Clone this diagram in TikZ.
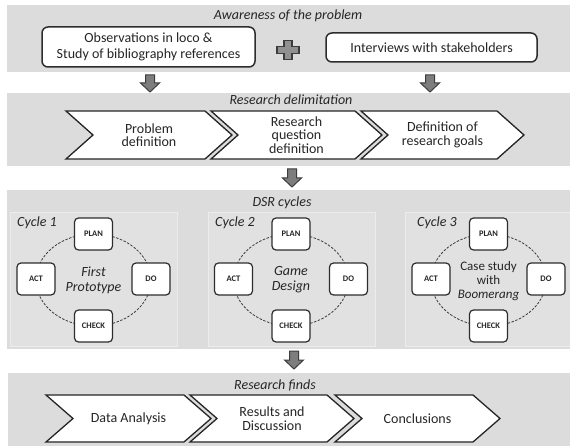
\documentclass[tikz,border=0pt]{standalone}
\usepackage{fontspec}
\setmainfont{Carlito}
\definecolor{bandfill}{RGB}{220,220,220}
\definecolor{panelfill}{RGB}{225,225,225}
\definecolor{paneledge}{RGB}{236,236,236}
\definecolor{boxline}{RGB}{45,45,45}
\definecolor{loopline}{RGB}{60,60,60}
\definecolor{arrowfill}{RGB}{125,125,125}
\definecolor{arrowline}{RGB}{60,60,60}
\tikzset{
  band/.style={fill=bandfill, draw=none},
  panel/.style={fill=panelfill, draw=paneledge, line width=0.7pt},
  heading/.style={font=\fontsize{14}{16}\selectfont\itshape, inner sep=0pt, text=black!85},
  srcbox/.style={draw=boxline, line width=1.5pt, fill=white, rounded corners=6pt,
    align=center, inner sep=0pt, font=\fontsize{14}{15.5}\selectfont, text=black!85},
  chevbox/.style={draw=black!85, line width=1.3pt, fill=white, line join=miter},
  chevtext/.style={align=center, inner sep=0pt, font=\fontsize{14}{13.5}\selectfont, text=black!85},
  pdca/.style={draw=boxline, line width=1.2pt, fill=white, rounded corners=4pt,
    minimum width=38pt, minimum height=32pt, inner sep=0pt,
    font=\fontsize{8.5}{9}\selectfont\bfseries, text=black!85},
  cyclename/.style={anchor=west, inner sep=0pt, font=\fontsize{14}{16}\selectfont\itshape, text=black!85},
  centretext/.style={align=center, inner sep=0pt, font=\fontsize{14}{15}\selectfont\itshape, text=black!85},
  loop/.style={draw=loopline, line width=0.8pt, dash pattern=on 2.5pt off 1.5pt},
  blockarrow/.style={fill=arrowfill, draw=arrowline, line width=1pt, line join=miter},
  plussign/.style={fill=arrowfill!85, draw=arrowline, line width=1.4pt, line join=miter},
}
% chevron: name, left x, tip x, top y, bottom y, label
\newcommand\chevronstep[6]{%
  \draw[chevbox] (#2,#4) -- ({#3-27},#4) -- (#3,{(#4+#5)/2}) -- ({#3-27},#5)
    -- (#2,#5) -- ({#2+27},{(#4+#5)/2}) -- cycle;
  \node[chevtext] (#1) at ({(#2+#3)/2},{(#4+#5)/2}) {#6};
}
% downward block arrow: x, top y, tip y
\newcommand\blockdown[3]{%
  \draw[blockarrow] ({#1-4.5},#2) -- ({#1+4.5},#2) -- ({#1+4.5},{#3-9}) -- ({#1+9.5},{#3-9})
    -- (#1,#3) -- ({#1-9.5},{#3-9}) -- ({#1-4.5},{#3-9}) -- cycle;
}
% one PDCA loop: prefix, centre x, centre y
\newcommand\pdcaloop[3]{%
  \draw[loop] (#2,#3) ellipse [x radius=57.5pt, y radius=46pt];
  \node[pdca] (#1plan)  at (#2,{#3-46}) {PLAN};
  \node[pdca] (#1act)   at ({#2-57.5},{#3-1}) {ACT};
  \node[pdca] (#1do)    at ({#2+57.5},{#3-1}) {DO};
  \node[pdca] (#1check) at (#2,{#3+46}) {CHECK};
}
\begin{document}
\begin{tikzpicture}[x=1pt, y=-1pt]
\useasboundingbox (0,0) rectangle (570,446);
\fill[white] (0,0) rectangle (570,446);

% ---- awareness of the problem
\fill[band] (7,5) rectangle (570,72);
\node[heading] (awaretitle) at (288,16) {Awareness of the problem};
\node[srcbox, minimum width=213pt, minimum height=40pt] (obs) at (148.5,47)
  {Observations in loco \&\\Study of bibliography references};
\node[srcbox, minimum width=211pt, minimum height=29pt] (interv) at (431.5,47.5)
  {Interviews with stakeholders};
% plus sign between the two sources
\draw[plussign] (277,46.5) -- (284,46.5) -- (284,40.5) -- (292,40.5) -- (292,46.5) -- (299,46.5)
  -- (299,53.5) -- (292,53.5) -- (292,59.5) -- (284,59.5) -- (284,53.5) -- (277,53.5) -- cycle;
\blockdown{150}{75}{92}
\blockdown{430}{75}{92}

% ---- research delimitation
\fill[band] (7,93) rectangle (570,166);
\node[heading] (delimtitle) at (291,99.5) {Research delimitation};
\chevronstep{pdef}{66}{232}{111}{159}{Problem\\definition}
\chevronstep{rqdef}{211}{382}{111}{159}{Research\\question\\definition}
\chevronstep{goals}{361}{524}{111}{159}{Definition of\\research goals}
\blockdown{292}{169}{187}

% ---- DSR cycles
\fill[band] (7,190) rectangle (570,349);
\node[heading] (dsrtitle) at (282,203) {DSR cycles};
\draw[panel] (10,212) rectangle (177,346);
\draw[panel] (208,212) rectangle (375,346);
\draw[panel] (405,212) rectangle (571,346);
\node[cyclename] (cyc1) at (17,223) {Cycle 1};
\node[cyclename] (cyc2) at (215,223) {Cycle 2};
\node[cyclename] (cyc3) at (417,223) {Cycle 3};
\pdcaloop{a}{93.5}{280}
\pdcaloop{b}{291}{280}
\pdcaloop{c}{488.5}{280}
\node[centretext] (atext) at (93.5,280) {First\\Prototype};
\node[centretext] (btext) at (291,280) {Game\\Design};
\node[centretext, font=\fontsize{13}{14}\selectfont] (ctext) at (488.5,281)
  {Case study\\with\\\textit{Boomerang}};
\blockdown{294}{351}{369}

% ---- research finds
\fill[band] (8,373) rectangle (570,446);
\node[heading] (findtitle) at (275,385) {Research finds};
\chevronstep{data}{46}{211}{395}{442}{Data Analysis}
\chevronstep{results}{190}{354}{395}{442}{Results and\\Discussion}
\chevronstep{concl}{335}{500}{395}{442}{Conclusions}
\end{tikzpicture}
\end{document}
